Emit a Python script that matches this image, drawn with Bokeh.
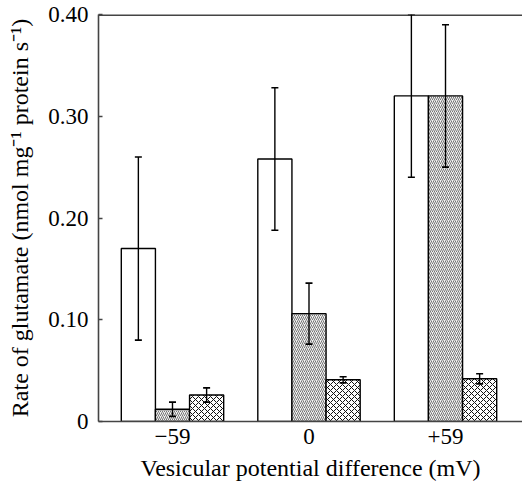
from bokeh.plotting import figure
from bokeh.models import ColumnDataSource, Whisker, FixedTicker, Range1d
from bokeh.embed import file_html
from bokeh.resources import INLINE

groups = ["\u221259", "0", "+59"]
control = [0.170, 0.258, 0.320]
control_err = [0.090, 0.070, 0.080]
hatched = [0.012, 0.106, 0.320]
hatched_err = [0.007, 0.030, 0.070]
crossed = [0.026, 0.041, 0.042]
crossed_err = [0.007, 0.003, 0.005]
y_ticks = [0, 0.10, 0.20, 0.30, 0.40]
y_tick_labels = ["0", "0.10", "0.20", "0.30", "0.40"]

FONT = "Liberation Serif"
W = 0.25
X0, X1 = -0.542, 2.564

p = figure(width=522, height=488, output_backend="svg", toolbar_location=None,
           x_range=Range1d(X0, X1), y_range=Range1d(0, 0.40),
           min_border_left=98, min_border_top=14, min_border_right=0, min_border_bottom=67)
p.outline_line_color = None
p.grid.visible = False
p.background_fill_color = "white"

xs = list(range(len(groups)))
series = [
    (control, control_err, -W, dict(fill_color="white")),
    (hatched, hatched_err, 0.0, dict(fill_color="#f2f2f2", hatch_pattern="/", hatch_color="#555555",
                                     hatch_scale=4, hatch_weight=0.8)),
    (crossed, crossed_err, W, dict(fill_color="white", hatch_pattern="x", hatch_color="#111111",
                                   hatch_scale=6, hatch_weight=1.0)),
]
for vals, errs, off, style in series:
    src = ColumnDataSource(dict(
        x=[x + off for x in xs], top=vals,
        lower=[v - e for v, e in zip(vals, errs)],
        upper=[v + e for v, e in zip(vals, errs)],
    ))
    p.vbar(x="x", top="top", bottom=0, width=W, source=src, line_color="black", line_width=1.4, **style)
    wk = Whisker(base="x", lower="lower", upper="upper", source=src, line_color="black",
                 line_width=1.4, level="annotation")
    wk.upper_head.size = 7
    wk.lower_head.size = 7
    wk.upper_head.line_width = 1.6
    wk.lower_head.line_width = 1.6
    p.add_layout(wk)

# top border line
p.line(x=[X0, X1], y=[0.40, 0.40], line_color="#444444", line_width=3)

p.xaxis.ticker = FixedTicker(ticks=xs)
p.xaxis.major_label_overrides = {i: g for i, g in enumerate(groups)}
p.xaxis.major_tick_line_color = None
p.xaxis.minor_tick_line_color = None
p.xaxis.axis_line_width = 1.6
p.xaxis.axis_line_color = "#444444"
p.xaxis.major_label_standoff = 1
p.xaxis.axis_label = "Vesicular potential difference (mV)"
p.xaxis.axis_label_standoff = 8

p.yaxis.ticker = FixedTicker(ticks=y_ticks)
p.yaxis.major_label_overrides = {t: l for t, l in zip(y_ticks, y_tick_labels)}
p.yaxis.major_tick_in = 4
p.yaxis.major_tick_out = 0
p.yaxis.major_tick_line_width = 1.4
p.yaxis.major_tick_line_color = "#444444"
p.yaxis.minor_tick_line_color = None
p.yaxis.axis_line_width = 1.6
p.yaxis.axis_line_color = "#444444"
p.yaxis.major_label_standoff = 10
p.yaxis.axis_label = "Rate of glutamate (nmol mg\u207b\u00b9 protein s\u207b\u00b9)"
p.yaxis.axis_label_standoff = 12

for ax in (p.xaxis[0], p.yaxis[0]):
    ax.major_label_text_font = FONT
    ax.major_label_text_font_size = "23px"
    ax.major_label_text_color = "black"
    ax.axis_label_text_font = FONT
    ax.axis_label_text_font_size = "24px"
    ax.axis_label_text_font_style = "normal"
    ax.axis_label_text_color = "black"

open("out.html", "w").write(file_html(p, INLINE))
